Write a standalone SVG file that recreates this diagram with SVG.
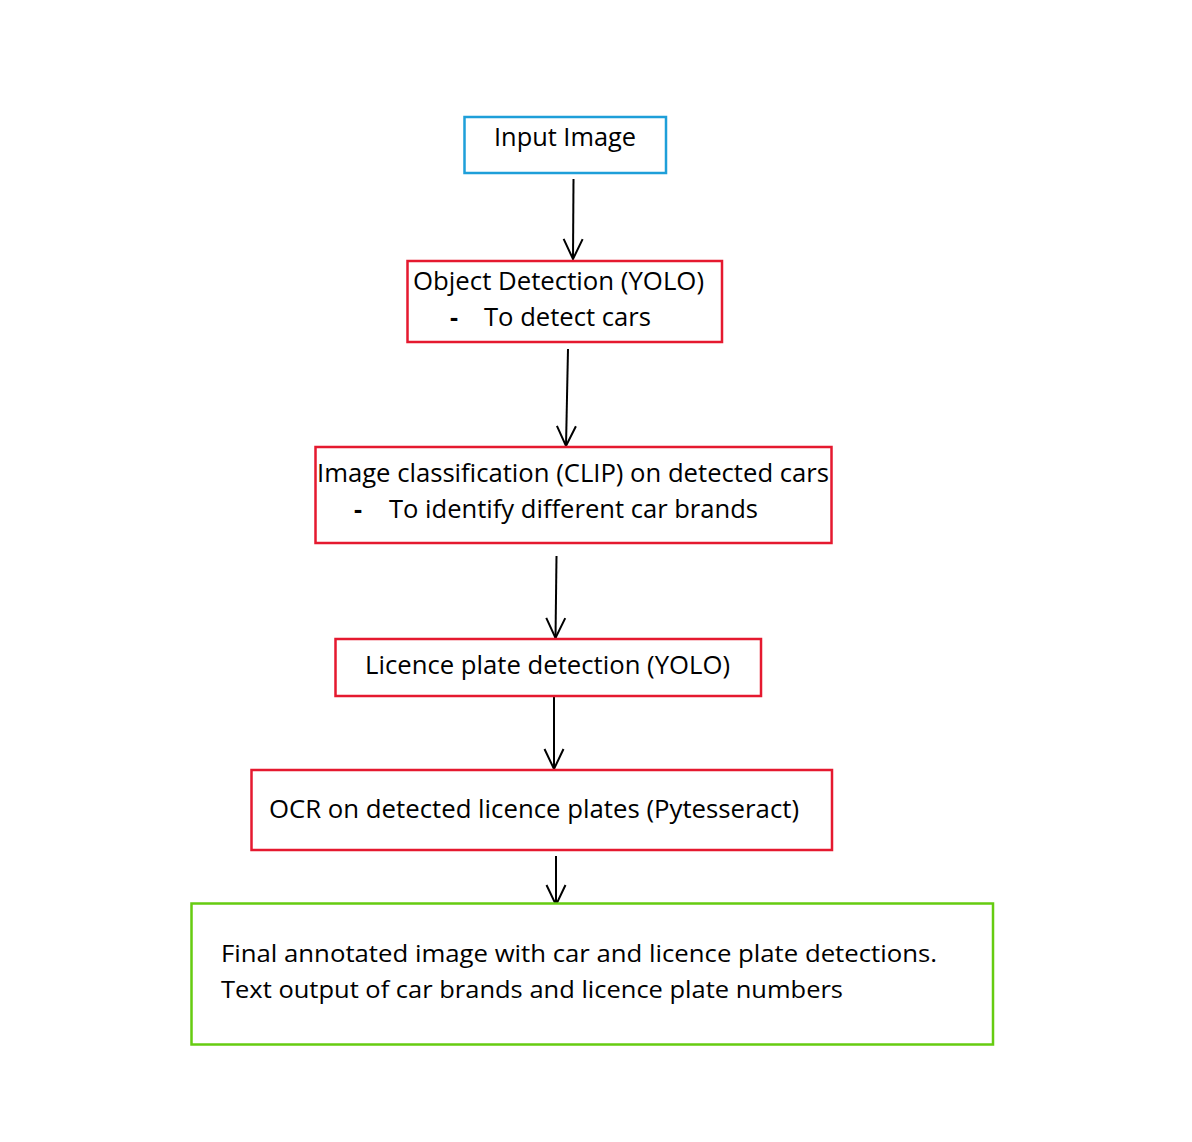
<svg xmlns="http://www.w3.org/2000/svg" width="1192" height="1142" viewBox="0 0 1192 1142">
  <defs>
    <style>
      .box { fill: #ffffff; stroke-width: 2.5; }
      .blue { stroke: #1E9FD9; }
      .red { stroke: #E5192F; }
      .green { stroke: #66CC11; }
      .t { font-family: "Open Sans", "Liberation Sans", sans-serif; font-size: 25px; fill: #000000; }
      .tc { font-family: "Open Sans", "Liberation Sans", sans-serif; font-size: 24px; fill: #000000; }
      .conn { stroke: #000000; stroke-width: 2; fill: none; }
    </style>
    <marker id="vhead" markerUnits="userSpaceOnUse" orient="auto" refX="0" refY="0" markerWidth="30" markerHeight="30" overflow="visible">
      <path d="M-20,-9.5 L0,0 L-20,9.5" fill="none" stroke="#000000" stroke-width="2"/>
    </marker>
  </defs>
  <rect width="1192" height="1142" fill="#ffffff"/>

  <g id="connectors">
    <line class="conn" x1="573.5" y1="179" x2="573" y2="259" marker-end="url(#vhead)"/>
    <line class="conn" x1="568" y1="349" x2="566" y2="446" marker-end="url(#vhead)"/>
    <line class="conn" x1="556.5" y1="556" x2="555.5" y2="638" marker-end="url(#vhead)"/>
    <line class="conn" x1="554" y1="697" x2="554" y2="769" marker-end="url(#vhead)"/>
    <line class="conn" x1="556" y1="856" x2="556" y2="905" marker-end="url(#vhead)"/>
  </g>

  <g id="input-image">
    <rect class="box blue" x="464.5" y="117" width="201.5" height="56"/>
    <text class="t" x="494" y="146" textLength="142" lengthAdjust="spacingAndGlyphs">Input Image</text>
  </g>

  <g id="object-detection">
    <rect class="box red" x="407.5" y="261" width="314.5" height="81"/>
    <text class="t" x="413" y="290" textLength="291" lengthAdjust="spacingAndGlyphs">Object Detection (YOLO)</text>
    <text class="t" x="450" y="326" font-weight="bold">-</text>
    <text class="t" x="484" y="326" textLength="167" lengthAdjust="spacingAndGlyphs">To detect cars</text>
  </g>

  <g id="image-classification">
    <rect class="box red" x="315.5" y="447" width="516" height="96"/>
    <text class="t" x="317" y="482" textLength="512" lengthAdjust="spacingAndGlyphs">Image classification (CLIP) on detected cars</text>
    <text class="t" x="354" y="518" font-weight="bold">-</text>
    <text class="t" x="389" y="518" textLength="369" lengthAdjust="spacingAndGlyphs">To identify different car brands</text>
  </g>

  <g id="licence-plate-detection">
    <rect class="box red" x="335.5" y="639" width="425.5" height="57"/>
    <text class="t" x="365" y="674" textLength="365" lengthAdjust="spacingAndGlyphs">Licence plate detection (YOLO)</text>
  </g>

  <g id="ocr">
    <rect class="box red" x="251.5" y="770" width="580.5" height="80"/>
    <text class="t" x="269" y="818" textLength="530" lengthAdjust="spacingAndGlyphs">OCR on detected licence plates (Pytesseract)</text>
  </g>

  <g id="final-output">
    <rect class="box green" x="191.5" y="903.5" width="801.5" height="141"/>
    <text class="tc" x="221" y="962" textLength="716" lengthAdjust="spacingAndGlyphs">Final annotated image with car and licence plate detections.</text>
    <text class="tc" x="221" y="998" textLength="622" lengthAdjust="spacingAndGlyphs">Text output of car brands and licence plate numbers</text>
  </g>
</svg>
